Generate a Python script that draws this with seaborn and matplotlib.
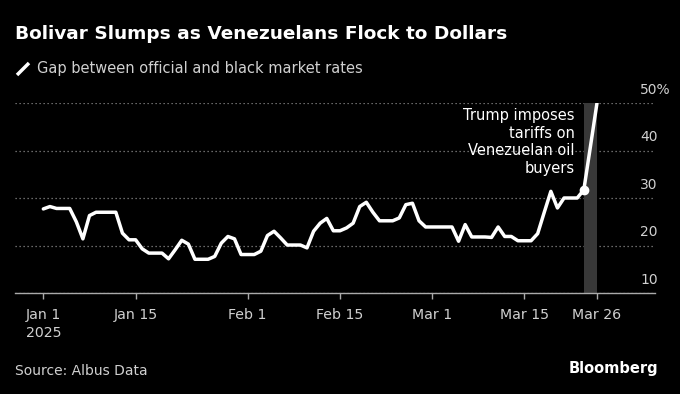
import pandas as pd
import numpy as np
import seaborn as sns
import matplotlib.pyplot as plt
import matplotlib.transforms as mtransforms
from matplotlib.lines import Line2D

# Daily gap (%) between official and black market bolivar rates
dates = pd.date_range('2025-01-01', '2025-03-26', freq='D')
gap = [27.7, 28.2, 27.8, 27.8, 27.8, 25.0, 21.4, 26.3, 27.0, 27.0,
       27.0, 27.0, 22.6, 21.2, 21.2, 19.3, 18.4, 18.4, 18.4, 17.2,
       19.1, 21.1, 20.3, 17.1, 17.1, 17.1, 17.7, 20.5, 21.9, 21.4,
       18.1, 18.1, 18.1, 18.8, 22.1, 23.0, 21.6, 20.1, 20.1, 20.1,
       19.5, 23.0, 24.7, 25.7, 23.1, 23.1, 23.7, 24.7, 28.2, 29.1,
       27.0, 25.2, 25.2, 25.2, 25.8, 28.6, 28.9, 25.2, 23.9, 23.9,
       23.9, 23.9, 23.9, 20.9, 24.4, 21.8, 21.8, 21.8, 21.7, 23.9,
       21.9, 21.9, 21.0, 21.0, 21.0, 22.5, 27.0, 31.4, 27.9, 30.0,
       30.0, 30.0, 31.7, 40.8, 50.0]

y_ticks = [10, 20, 30, 40, 50]
x_ticks = pd.to_datetime(['2025-01-01', '2025-01-15', '2025-02-01', '2025-02-15',
                          '2025-03-01', '2025-03-15', '2025-03-26'])
x_labels = ['Jan 1\n2025', 'Jan 15', 'Feb 1', 'Feb 15', 'Mar 1', 'Mar 15', 'Mar 26']

event_date = pd.Timestamp('2025-03-24')
event_end = pd.Timestamp('2025-03-26')
event_text = 'Trump imposes\ntariffs on\nVenezuelan oil\nbuyers'

df = pd.DataFrame({'date': dates, 'gap': gap})

sns.set_theme(style='dark')
plt.rcParams['font.family'] = ['DejaVu Sans']

BG = 'black'
TXT = '#d0d0d0'

fig = plt.figure(figsize=(6.8, 3.94), dpi=100, facecolor=BG)
ax = fig.add_axes([15 / 680, 1 - 293 / 394, 640 / 680, 190 / 394])
ax.set_facecolor(BG)

# shaded event window
ax.axvspan(event_date, event_end, color='#383838', lw=0, zorder=1)

sns.lineplot(data=df, x='date', y='gap', color='white', lw=2.5, ax=ax, zorder=3)

event_val = df.loc[df['date'] == event_date, 'gap'].iloc[0]
ax.plot([event_date], [event_val], 'o', color='white', ms=6, zorder=4)
ax.annotate(event_text, xy=(event_date, event_val), xytext=(-6.5, 10),
            textcoords='offset points', ha='right', va='bottom',
            multialignment='right', color='white', fontsize=10.5, linespacing=1.22)

ax.set_ylim(10, 50)
ax.set_xlim(dates[0] - pd.Timedelta(days=4.3), dates[0] + pd.Timedelta(days=92.8))

ax.set_yticks(y_ticks)
ax.set_yticklabels([])
ax.tick_params(axis='y', length=0)
ax.yaxis.grid(True, linestyle=(0, (1, 2.2)), color='#8a8a8a', lw=0.9)
ax.xaxis.grid(False)

# y labels sit above their gridlines, right side
lab_tr = mtransforms.blended_transform_factory(ax.transAxes, ax.transData) + \
    mtransforms.ScaledTranslation(0, 6.5 / 72, fig.dpi_scale_trans)
for v in y_ticks:
    lab = f'{v}%' if v == y_ticks[-1] else str(v)
    ax.text(0.9766, v, lab, transform=lab_tr, ha='left', va='baseline',
            color=TXT, fontsize=10)

ax.set_xticks(x_ticks)
ax.set_xticklabels(x_labels, linespacing=1.35)
ax.tick_params(axis='x', direction='out', length=4, width=1, color='#aaaaaa',
               labelcolor=TXT, labelsize=10.2, pad=7, bottom=True)
ax.set_xlabel('')
ax.set_ylabel('')

for s in ['top', 'left', 'right']:
    ax.spines[s].set_visible(False)
ax.spines['bottom'].set_color('#aaaaaa')
ax.spines['bottom'].set_linewidth(1)

# title, legend, footer
fig.text(15 / 680, 1 - 34 / 394, 'Bolivar Slumps as Venezuelans Flock to Dollars',
         color='white', fontsize=13.3, fontweight='bold', va='center')
fig.add_artist(Line2D([17 / 680, 29 / 680], [1 - 75 / 394, 1 - 63 / 394],
                      color='white', lw=2.5, solid_capstyle='butt'))
fig.text(37 / 680, 1 - 68 / 394, 'Gap between official and black market rates',
         color=TXT, fontsize=10.5, va='center')
fig.text(15 / 680, 1 - 371 / 394, 'Source: Albus Data', color=TXT, fontsize=10, va='center')
fig.text(658 / 680, 1 - 369 / 394, 'Bloomberg', color='white', fontsize=10.5,
         fontweight='bold', ha='right', va='center')

fig.savefig('out.png', dpi=100, facecolor=BG)
